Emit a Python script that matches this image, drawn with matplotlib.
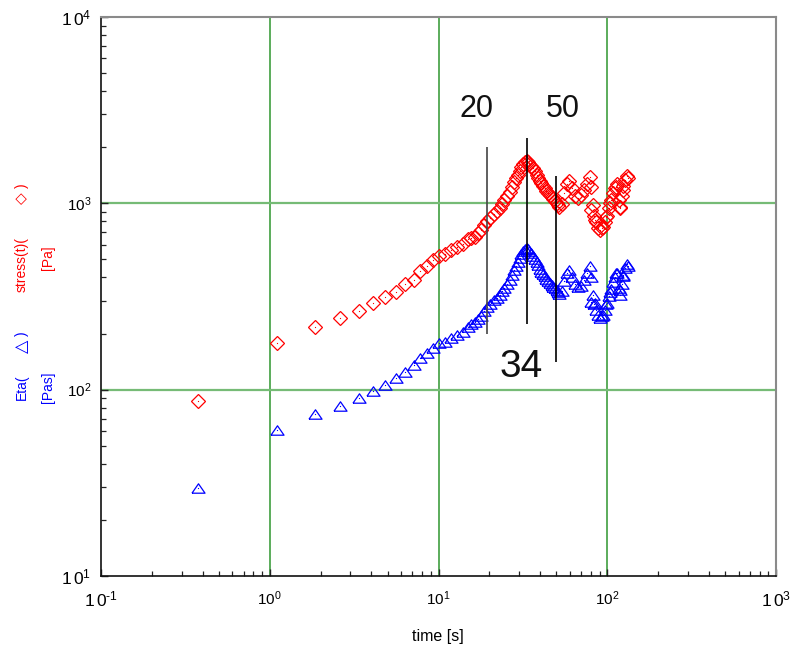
import matplotlib
matplotlib.use('Agg')
import matplotlib.pyplot as plt
from matplotlib.ticker import LogLocator, NullFormatter

plt.rcParams['font.family'] = ['Liberation Sans', 'DejaVu Sans']
plt.rcParams['mathtext.fontset'] = 'custom'
plt.rcParams['mathtext.rm'] = 'Liberation Sans'
plt.rcParams['mathtext.it'] = 'Liberation Sans:italic'
plt.rcParams['mathtext.bf'] = 'Liberation Sans:bold'

# ---------------- data ----------------
time_s = [0.374, 1.106, 1.866, 2.625, 3.357, 4.10, 4.85, 5.58, 6.37, 7.14,
          7.82, 8.52, 9.25, 10.1, 10.9, 11.9, 12.8, 13.9, 14.9, 15.58,
          16.35, 17.03, 17.74, 18.61, 19.44, 20.33, 21.2, 22.07, 23.0, 23.79,
          24.6, 25.47, 26.4, 27.2, 28.0, 28.76, 29.5, 30.29, 31.0, 31.69,
          32.4, 33.4, 33.96, 34.6, 35.4, 36.2, 37.2, 38.1, 38.9, 39.7,
          40.7, 41.6, 42.7, 43.6, 44.8, 45.8, 46.9, 48.0, 49.0, 50.1,
          51.1, 52.1, 53.6, 55.5, 57.4, 59.4, 61.4, 64.0, 66.7, 69.5,
          72.4, 75.4, 78.5, 80.2, 80.4, 81.8, 83.6, 84.1, 85.3, 87.6,
          90.6, 93.7, 94.2, 96.4, 98.6, 99.1, 101.8, 103.2, 104.6, 107.5,
          110.5, 113.1, 113.5, 116.6, 118.3, 119.1, 121.6, 123.7, 124.1, 126.6,
          130.1, 133.6]

stress_pa = [87, 178, 218, 242, 265, 291, 314, 336, 368, 388,
             433, 461, 497, 524, 535, 562, 581, 605, 641, 652,
             662, 693, 719, 765, 804, 834, 877, 910, 944, 992,
             1042, 1094, 1150, 1222, 1300, 1366, 1418, 1489, 1564, 1624,
             1665, 1685, 1664, 1622, 1584, 1540, 1489, 1418, 1366, 1316,
             1282, 1238, 1208, 1164, 1136, 1108, 1081, 1054, 1029, 1004,
             979, 955, 991, 1136, 1269, 1316, 1208, 1094, 1067, 1108,
             1178, 1269, 1383, 1222, 921, 979, 855, 814, 794, 737,
             719, 737, 749, 794, 848, 855, 944, 1000, 1042, 1136,
             1208, 1227, 1269, 1042, 959, 944, 1094, 1178, 1238, 1333,
             1402, 1368]

eta_pas = [29.5, 61.1, 74.4, 82.1, 90.3, 97.9, 106, 115, 124, 135,
           148, 157, 167, 178, 181, 189, 197, 205, 218, 226,
           231, 240, 249, 265, 278, 289, 303, 311, 323, 339,
           352, 370, 388, 413, 439, 462, 485, 509, 535, 555,
           569, 576, 569, 555, 542, 522, 503, 485, 467, 445,
           429, 418, 408, 393, 384, 374, 365, 356, 352, 343,
           335, 327, 339, 384, 423, 439, 403, 370, 356, 361,
           388, 423, 461, 403, 297, 323, 289, 291, 268, 252,
           243, 249, 252, 268, 290, 292, 319, 335, 347, 379,
           403, 422, 423, 352, 343, 323, 370, 405, 413, 450,
           473, 461]

mark_times = [19.5, 33.3, 50.0]
mark_low = [200, 224, 140]
mark_high = [2000, 2240, 1400]
mark_labels = ['20', '34', '50']
mark_label_x = [16.8, 31.0, 54.3]
mark_label_y = [3200, 133, 3200]
mark_label_size = [22, 28, 22]

x_ticks = [0.1, 1, 10, 100, 1000]
x_ticklabels = [r'$1\,0^{\text{-}1}$', r'$10^{0}$', r'$10^{1}$', r'$10^{2}$', r'$1\,0^{3}$']
y_ticks = [10, 100, 1000, 10000]
y_ticklabels = [r'$1\,0^{1}$', r'$10^{2}$', r'$10^{3}$', r'$1\,0^{4}$']

# ---------------- figure ----------------
fig = plt.figure(figsize=(7.94, 6.56), dpi=100)
ax = fig.add_axes([101 / 794, 80 / 656, 675 / 794, 559 / 656])
ax.set_xscale('log')
ax.set_yscale('log')
ax.set_xlim(0.1, 1000)
ax.set_ylim(10, 10000)

# grid (green at decades)
for xv in x_ticks[1:-1]:
    ax.axvline(xv, color='#2f962f', lw=1.1, zorder=0.5)
for yv in y_ticks[1:-1]:
    ax.axhline(yv, color='#76bb76', lw=1.6, zorder=0.5)

tri = [(-1, -0.72), (1, -0.72), (0, 0.72), (-1, -0.72)]
ax.plot(time_s, stress_pa, ls='none', marker='D', ms=6.8, mfc='none',
        mec='#ff0000', mew=0.9, zorder=3)
ax.plot(time_s, stress_pa, ls='none', marker='s', ms=0.8, mfc='#ff0000',
        mec='none', zorder=3)
ax.plot(time_s, eta_pas, ls='none', marker=tri, ms=9.4, mfc='none',
        mec='#0000ff', mew=0.9, zorder=3)
ax.plot(time_s, eta_pas, ls='none', marker='s', ms=0.8, mfc='#0000ff',
        mec='none', zorder=3)

ax.vlines(mark_times, mark_low, mark_high, colors=['#444444', 'black', 'black'],
          lw=1.2, zorder=4)
for lx, ly, lab, fs in zip(mark_label_x, mark_label_y, mark_labels, mark_label_size):
    ax.text(lx, ly, lab, fontsize=fs, ha='center', va='center', color='#111111')

# ticks
ax.set_xticks(x_ticks, x_ticklabels)
ax.set_yticks(y_ticks, y_ticklabels)
ax.xaxis.set_minor_locator(LogLocator(base=10, subs=range(2, 10), numticks=20))
ax.yaxis.set_minor_locator(LogLocator(base=10, subs=range(2, 10), numticks=20))
ax.xaxis.set_minor_formatter(NullFormatter())
ax.yaxis.set_minor_formatter(NullFormatter())
ax.tick_params(which='both', direction='in', top=False, right=False, color='#222222')
ax.tick_params(which='major', length=5, width=1.0)
ax.tick_params(which='minor', length=3.8, width=0.9)
ax.tick_params(axis='x', which='major', pad=10)
ax.tick_params(axis='y', which='major', pad=7)
for i, lbl in enumerate(ax.get_xticklabels()):
    lbl.set_fontsize(12.5 if i in (0, len(x_ticks) - 1) else 11)
for i, lbl in enumerate(ax.get_yticklabels()):
    lbl.set_fontsize(12.5 if i in (0, len(y_ticks) - 1) else 11)

for side in ('left', 'bottom'):
    ax.spines[side].set_color('#111111')
    ax.spines[side].set_linewidth(1.2)
for side in ('top', 'right'):
    ax.spines[side].set_color('#8a8a8a')
    ax.spines[side].set_linewidth(1.5)

# axis labels
fig.text(438 / 794, (656 - 637) / 656, 'time [s]', fontsize=11.5, ha='center', va='center')

# y-axis labels (two colored stacks)
fs_lab = 10
fig.text(22 / 794, (656 - 292) / 656, 'stress(t)(', rotation=90, color='#ff0000',
         fontsize=fs_lab, ha='center', va='bottom')
fig.text(22 / 794, (656 - 198) / 656, '\u25c7', rotation=90, color='#ff0000',
         fontsize=11, ha='center', va='center', family=['DejaVu Sans'])
fig.text(22 / 794, (656 - 186) / 656, ')', rotation=90, color='#ff0000',
         fontsize=fs_lab, ha='center', va='center')
fig.text(48.5 / 794, (656 - 270) / 656, '[Pa]', rotation=90, color='#ff0000',
         fontsize=fs_lab, ha='center', va='bottom')

fig.text(22 / 794, (656 - 400) / 656, 'Eta(', rotation=90, color='#0000ff',
         fontsize=fs_lab, ha='center', va='bottom')
fig.text(22 / 794, (656 - 346.5) / 656, '\u25b3', rotation=90, color='#0000ff',
         fontsize=12.5, ha='center', va='center', family=['DejaVu Sans'])
fig.text(22 / 794, (656 - 334) / 656, ')', rotation=90, color='#0000ff',
         fontsize=fs_lab, ha='center', va='center')
fig.text(48.5 / 794, (656 - 403) / 656, '[Pas]', rotation=90, color='#0000ff',
         fontsize=fs_lab, ha='center', va='bottom')

fig.savefig('out.png', dpi=100)
